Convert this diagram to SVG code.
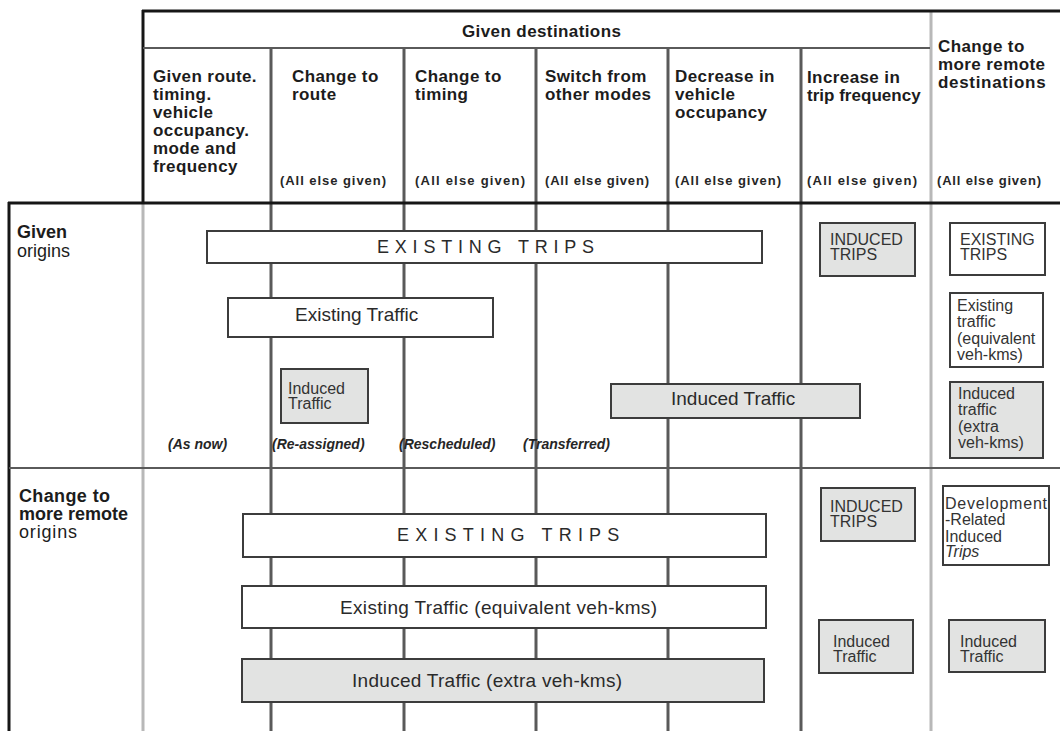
<svg xmlns="http://www.w3.org/2000/svg" width="1060" height="731" viewBox="0 0 1060 731">
<style>
text{font-family:"Liberation Sans",Arial,Helvetica,sans-serif}
.hd{font-weight:bold;font-size:17px;letter-spacing:0.4px;fill:#1c1c1c}
.rl{font-weight:bold;font-size:18px;fill:#1c1c1c}
.rr{font-size:18px;fill:#1c1c1c}
.sub{font-weight:bold;font-size:13px;fill:#262626}
.it{font-weight:bold;font-style:italic;font-size:14px;fill:#262626}
.big{font-size:19px;fill:#2a2a2a}
.sp{font-size:18px;fill:#2a2a2a}
.sm{font-size:16px;fill:#333}
.box{stroke:#3c3c3c;stroke-width:2}
.w{fill:#fff}
.g{fill:#e2e3e2}
.vd{stroke:#5a5a5a;stroke-width:3}
.vl{stroke:#b8b8b8;stroke-width:3}
.vb{stroke:#161616;stroke-width:3}
.hg{stroke:#5a5a5a;stroke-width:2}
</style>
<rect width="1060" height="731" fill="#fff"/>
<g id="grid">
<line class="vl" x1="143" y1="203" x2="143" y2="731"/>
<line class="vd" x1="271" y1="48" x2="271" y2="731"/>
<line class="vd" x1="404" y1="48" x2="404" y2="731"/>
<line class="vd" x1="536" y1="48" x2="536" y2="731"/>
<line class="vd" x1="668" y1="48" x2="668" y2="731"/>
<line class="vd" x1="801" y1="48" x2="801" y2="731"/>
<line class="vl" x1="931" y1="11" x2="931" y2="731"/>
<line class="vb" x1="143" y1="10" x2="143" y2="204"/>
<line class="vb" x1="9" y1="202" x2="9" y2="731"/>
<line class="vb" x1="142" y1="11" x2="1060" y2="11"/>
<line class="hg" x1="143" y1="48" x2="930" y2="48"/>
<line class="vb" x1="8" y1="203" x2="1060" y2="203"/>
<line class="hg" x1="9" y1="468" x2="1060" y2="468"/>
</g>
<g id="header-given-destinations"><text class="hd" x="462" y="37" letter-spacing="0.6">Given destinations</text></g>
<g id="col-given">
<text class="hd" x="153" y="82">Given route.</text>
<text class="hd" x="153" y="100">timing.</text>
<text class="hd" x="153" y="118">vehicle</text>
<text class="hd" x="153" y="136">occupancy.</text>
<text class="hd" x="153" y="154">mode and</text>
<text class="hd" x="153" y="172">frequency</text>
</g>
<g id="col-route">
<text class="hd" x="292" y="82">Change to</text>
<text class="hd" x="292" y="100">route</text>
<text class="sub" x="280" y="185" textLength="106">(All else given)</text>
</g>
<g id="col-timing">
<text class="hd" x="415" y="82">Change to</text>
<text class="hd" x="415" y="100">timing</text>
<text class="sub" x="415" y="185" textLength="110">(All else given)</text>
</g>
<g id="col-modes">
<text class="hd" x="545" y="82">Switch from</text>
<text class="hd" x="545" y="100">other modes</text>
<text class="sub" x="545" y="185" textLength="104">(All else given)</text>
</g>
<g id="col-occupancy">
<text class="hd" x="675" y="82">Decrease in</text>
<text class="hd" x="675" y="100">vehicle</text>
<text class="hd" x="675" y="118">occupancy</text>
<text class="sub" x="675" y="185" textLength="106">(All else given)</text>
</g>
<g id="col-frequency">
<text class="hd" x="807" y="83">Increase in</text>
<text class="hd" x="807" y="101" textLength="114">trip frequency</text>
<text class="sub" x="807" y="185" textLength="110">(All else given)</text>
</g>
<g id="col-remote-dest">
<text class="hd" x="938" y="52">Change to</text>
<text class="hd" x="938" y="70">more remote</text>
<text class="hd" x="938" y="88" textLength="108">destinations</text>
<text class="sub" x="937" y="185" textLength="104">(All else given)</text>
</g>
<g id="row-given-origins">
<text class="rl" x="17" y="238">Given</text>
<text class="rr" x="17" y="257">origins</text>
</g>
<g id="row-remote-origins">
<text class="rl" x="19" y="502" font-size="16" textLength="91">Change to</text>
<text class="rl" x="19" y="520" font-size="16" textLength="109">more remote</text>
<text class="rr" x="19" y="538" font-size="16" textLength="58">origins</text>
</g>
<g id="labels-row1">
<text class="it" x="168" y="449">(As now)</text>
<text class="it" x="272" y="449">(Re-assigned)</text>
<text class="it" x="399" y="449">(Rescheduled)</text>
<text class="it" x="523" y="449">(Transferred)</text>
</g>
<g id="existing-trips-1">
<rect class="box w" x="207" y="231" width="555" height="32"/>
<text class="sp" x="377" y="253" letter-spacing="5.8">EXISTING TRIPS</text>
</g>
<g id="existing-traffic-1">
<rect class="box w" x="228" y="298" width="265" height="39"/>
<text class="big" x="295" y="321">Existing Traffic</text>
</g>
<g id="induced-traffic-route">
<rect class="box g" x="281" y="369" width="87" height="54"/>
<text class="sm" x="288" y="394" font-size="15">Induced</text>
<text class="sm" x="288" y="409" font-size="15">Traffic</text>
</g>
<g id="induced-traffic-1">
<rect class="box g" x="611" y="384" width="249" height="34"/>
<text class="big" x="671" y="405">Induced Traffic</text>
</g>
<g id="induced-trips-1">
<rect class="box g" x="820" y="223" width="95" height="53"/>
<text class="sm" x="830" y="245">INDUCED</text>
<text class="sm" x="830" y="260">TRIPS</text>
</g>
<g id="existing-trips-dest">
<rect class="box w" x="950" y="223" width="95" height="52"/>
<text class="sm" x="960" y="245">EXISTING</text>
<text class="sm" x="960" y="260">TRIPS</text>
</g>
<g id="existing-traffic-dest">
<rect class="box w" x="950" y="293" width="93" height="74"/>
<text class="sm" x="957" y="311">Existing</text>
<text class="sm" x="957" y="327">traffic</text>
<text class="sm" x="957" y="344">(equivalent</text>
<text class="sm" x="957" y="360">veh-kms)</text>
</g>
<g id="induced-traffic-dest">
<rect class="box g" x="950" y="382" width="93" height="76"/>
<text class="sm" x="958" y="399">Induced</text>
<text class="sm" x="958" y="415">traffic</text>
<text class="sm" x="958" y="432">(extra</text>
<text class="sm" x="958" y="448">veh-kms)</text>
</g>
<g id="existing-trips-2">
<rect class="box w" x="243" y="514" width="523" height="43"/>
<text class="sp" x="397" y="541" letter-spacing="6.2">EXISTING TRIPS</text>
</g>
<g id="existing-traffic-2">
<rect class="box w" x="242" y="586" width="524" height="42"/>
<text class="big" x="340" y="614" textLength="317">Existing Traffic (equivalent veh-kms)</text>
</g>
<g id="induced-traffic-2">
<rect class="box g" x="242" y="659" width="522" height="43"/>
<text class="big" x="352" y="687" textLength="270">Induced Traffic (extra veh-kms)</text>
</g>
<g id="induced-trips-2">
<rect class="box g" x="821" y="488" width="94" height="53"/>
<text class="sm" x="830" y="512">INDUCED</text>
<text class="sm" x="830" y="527">TRIPS</text>
</g>
<g id="development-trips">
<rect class="box w" x="943" y="486" width="106" height="79"/>
<text class="sm" x="945" y="509" textLength="102">Development</text>
<text class="sm" x="945" y="525">-Related</text>
<text class="sm" x="945" y="542">Induced</text>
<text class="sm" x="945" y="557" font-style="italic">Trips</text>
</g>
<g id="induced-traffic-freq-2">
<rect class="box g" x="819" y="620" width="94" height="53"/>
<text class="sm" x="833" y="647">Induced</text>
<text class="sm" x="833" y="662">Traffic</text>
</g>
<g id="induced-traffic-dest-2">
<rect class="box g" x="949" y="620" width="96" height="52"/>
<text class="sm" x="960" y="647">Induced</text>
<text class="sm" x="960" y="662">Traffic</text>
</g>
</svg>
